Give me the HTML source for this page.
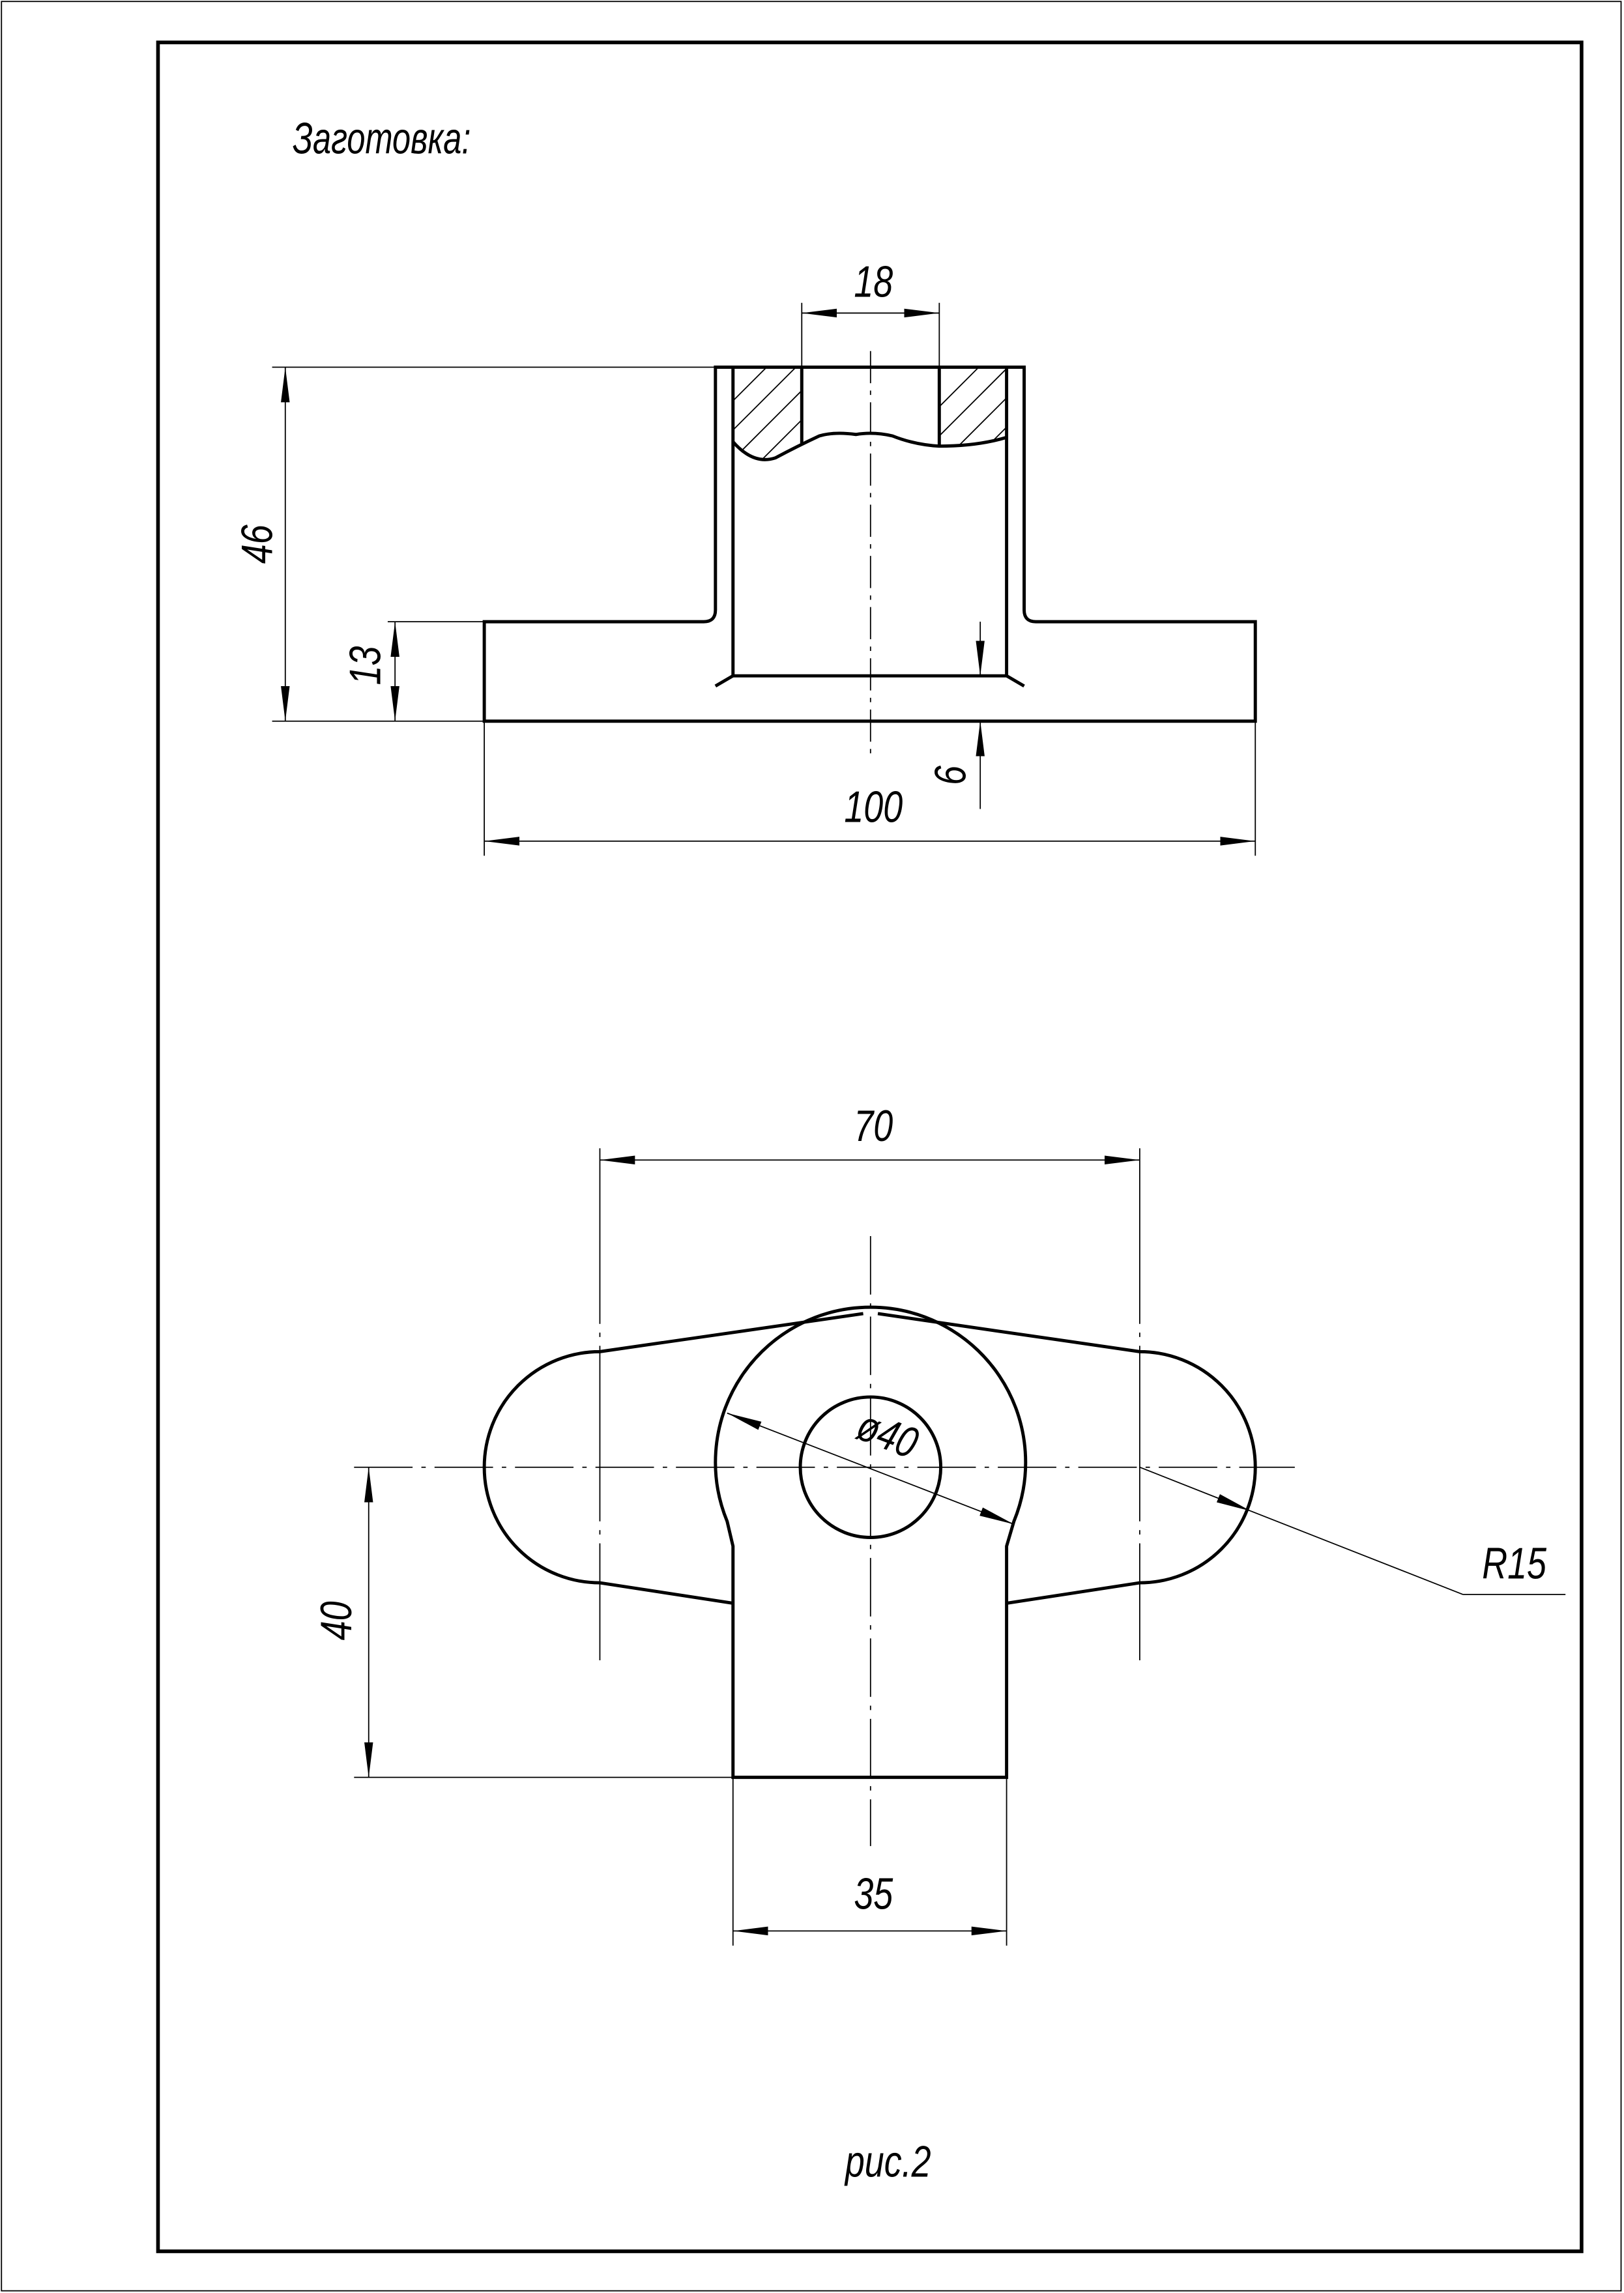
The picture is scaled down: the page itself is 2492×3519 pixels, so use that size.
<!DOCTYPE html>
<html><head><meta charset="utf-8">
<style>
html,body{margin:0;padding:0;background:#fff;}
svg{display:block;}
text{font-family:"Liberation Sans",sans-serif;font-style:italic;fill:#000;}
</style></head>
<body>
<svg width="2492" height="3519" viewBox="0 0 1110 1567.5" preserveAspectRatio="none" xmlns="http://www.w3.org/2000/svg">
<defs>
<marker id="a" viewBox="0 0 24 8" refX="24" refY="4" markerWidth="24" markerHeight="8" markerUnits="userSpaceOnUse" orient="auto-start-reverse">
<path d="M0,1 L24,4 L0,7 Z" fill="#000"/>
</marker>
</defs>
<rect x="1" y="1" width="1107" height="1565" fill="none" stroke="#000" stroke-width="0.8"/>
<rect x="108" y="29" width="973" height="1510" fill="none" stroke="#000" stroke-width="2.5"/>
<text x="200" y="105" font-size="30" transform="translate(200 105) scale(0.75 1) translate(-200 -105)">Заготовка:</text>

<g fill="none" stroke="#000" stroke-width="2.2">
<path d="M331,425 L481,425 Q489,425 489,417 L489,251 L700,251 L700,417 Q700,425 708,425 L858,425 L858,493 L331,493 Z"/>
<line x1="501" y1="251" x2="501" y2="462"/>
<line x1="688" y1="251" x2="688" y2="462"/>
<line x1="501" y1="462" x2="688" y2="462"/>
<line x1="501" y1="462" x2="489" y2="469"/>
<line x1="688" y1="462" x2="700" y2="469"/>
<line x1="548" y1="251" x2="548" y2="303"/>
<line x1="642" y1="251" x2="642" y2="305"/>
<path d="M501,302 Q515,318 530,313 Q545,305 560,298 Q570,295 585,297 Q597,295 610,298 Q625,304 642,305 Q668,305 688,299"/>
</g>
<g stroke="#000" stroke-width="0.8">
<clipPath id="h1"><path d="M501,251 L548,251 L548,303 Q540,310 530,313 Q515,318 501,302 Z"/></clipPath>
<clipPath id="h2"><path d="M642,251 L688,251 L688,299 Q668,305 642,305 Z"/></clipPath>
<g clip-path="url(#h1)">
<line x1="490" y1="285" x2="530" y2="245"/><line x1="490" y1="305" x2="550" y2="245"/><line x1="500" y1="315" x2="570" y2="245"/><line x1="520" y1="315" x2="590" y2="245"/>
</g>
<g clip-path="url(#h2)">
<line x1="630" y1="290" x2="675" y2="245"/><line x1="630" y1="310" x2="695" y2="245"/><line x1="650" y1="310" x2="715" y2="245"/><line x1="670" y1="310" x2="735" y2="245"/>
</g>
<line x1="595" y1="240" x2="595" y2="520" stroke-dasharray="22,5,3,5"/>
<line x1="548" y1="207" x2="548" y2="251"/><line x1="642" y1="207" x2="642" y2="251"/>
<line x1="548" y1="214" x2="642" y2="214" marker-start="url(#a)" marker-end="url(#a)"/>
<line x1="186" y1="251" x2="489" y2="251"/><line x1="186" y1="493" x2="331" y2="493"/>
<line x1="195" y1="251" x2="195" y2="493" marker-start="url(#a)" marker-end="url(#a)"/>
<line x1="265" y1="425" x2="331" y2="425"/>
<line x1="270" y1="425" x2="270" y2="493" marker-start="url(#a)" marker-end="url(#a)"/>
<line x1="670" y1="425" x2="670" y2="462" marker-end="url(#a)"/>
<line x1="670" y1="553" x2="670" y2="493" marker-end="url(#a)"/>
<line x1="331" y1="493" x2="331" y2="585"/><line x1="858" y1="493" x2="858" y2="585"/>
<line x1="331" y1="575" x2="858" y2="575" marker-start="url(#a)" marker-end="url(#a)"/>
</g>
<g font-size="30">
<text x="597" y="203" text-anchor="middle" transform="translate(597 203) scale(0.8 1) translate(-597 -203)">18</text>
<text transform="translate(186 372) rotate(-90) scale(0.8 1)" text-anchor="middle">46</text>
<text transform="translate(260 455) rotate(-90) scale(0.8 1)" text-anchor="middle">13</text>
<text transform="translate(660 530) rotate(-90) scale(0.8 1)" text-anchor="middle">6</text>
<text x="597" y="562" text-anchor="middle" transform="translate(597 562) scale(0.8 1) translate(-597 -562)">100</text>
</g>

<g fill="none" stroke="#000" stroke-width="2.2">
<path d="M497,1040 A106,106 0 1 1 693,1040 L688,1057 L688,1215 L501,1215 L501,1057 Z"/>
<circle cx="595" cy="1003" r="48"/>
<path d="M590,898 L410,924 A79,79 0 0 0 410,1082 L501,1096"/>
<path d="M600,898 L779,924 A79,79 0 0 1 779,1082 L688,1096"/>
</g>
<g stroke="#000" stroke-width="0.8">
<line x1="242" y1="1003" x2="885" y2="1003" stroke-dasharray="40,6,3,6"/>
<line x1="595" y1="845" x2="595" y2="1262" stroke-dasharray="40,6,3,6"/>
<line x1="410" y1="785" x2="410" y2="1135" stroke-dasharray="120,6,3,6"/>
<line x1="779" y1="785" x2="779" y2="1135" stroke-dasharray="120,6,3,6"/>
<line x1="410" y1="793" x2="779" y2="793" marker-start="url(#a)" marker-end="url(#a)"/>
<line x1="242" y1="1215" x2="501" y2="1215"/>
<line x1="252" y1="1003" x2="252" y2="1215" marker-start="url(#a)" marker-end="url(#a)"/>
<line x1="501" y1="1215" x2="501" y2="1330"/><line x1="688" y1="1215" x2="688" y2="1330"/>
<line x1="501" y1="1320" x2="688" y2="1320" marker-start="url(#a)" marker-end="url(#a)"/>
<line x1="497" y1="966" x2="693" y2="1042" marker-start="url(#a)" marker-end="url(#a)"/>
<line x1="779" y1="1003" x2="855" y2="1033" marker-end="url(#a)"/>
<line x1="855" y1="1033" x2="1000" y2="1090"/>
<line x1="1000" y1="1090" x2="1070" y2="1090"/>
</g>
<g font-size="30">
<text x="597" y="780" text-anchor="middle" transform="translate(597 780) scale(0.8 1) translate(-597 -780)">70</text>
<text transform="translate(240 1108) rotate(-90) scale(0.8 1)" text-anchor="middle">40</text>
<text x="597" y="1305" text-anchor="middle" transform="translate(597 1305) scale(0.8 1) translate(-597 -1305)">35</text>
<text transform="translate(603 990) rotate(21) scale(0.8 1)" text-anchor="middle">ø40</text>
<text x="1035" y="1079" text-anchor="middle" transform="translate(1035 1079) scale(0.8 1) translate(-1035 -1079)">R15</text>
<text x="607" y="1488" text-anchor="middle" transform="translate(607 1488) scale(0.8 1) translate(-607 -1488)">рис.2</text>
</g>
</svg>
</body></html>
